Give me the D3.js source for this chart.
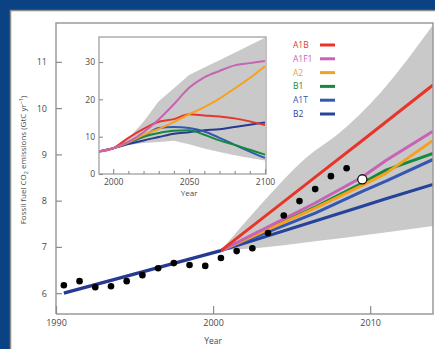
<!DOCTYPE html>
<html>
<head>
<meta charset="utf-8">
<script src="https://cdn.jsdelivr.net/npm/d3@7"></script>
<style>
  html, body { margin: 0; padding: 0; background: #0b4284; }
  svg { display: block; }
  text { font-family: "Open Sans", "Noto Sans", sans-serif; fill: #4a4a4a; }
</style>
</head>
<body>
<svg id="chart" width="435" height="349"></svg>
<script>
'use strict';

// observed emissions (GtC/yr), plotted at mid-year
var obsYears = [1990, 1991, 1992, 1993, 1994, 1995, 1996, 1997, 1998, 1999,
    2000, 2001, 2002, 2003, 2004, 2005, 2006, 2007, 2008];
var obsValues = [6.17, 6.26, 6.13, 6.15, 6.26, 6.39, 6.54, 6.65, 6.61, 6.59,
    6.76, 6.91, 6.97, 7.30, 7.68, 7.99, 8.25, 8.53, 8.70];
var projYear = 2009;
var projValue = 8.46;

// common trajectory before the scenarios split
var histYears = [1990.5, 2000.5];
var histValues = [6.0, 6.92];

// scenario lines in the main panel
var scenarioNames = ['A1B', 'A1F1', 'A2', 'B1', 'A1T', 'B2'];
var scenarioColors = ['#e8352a', '#c862b5', '#f5a11f', '#138a3c', '#3557b0', '#26439c'];
var mainYears = [2000.5, 2006.5, 2009.5, 2011, 2014];
var mainA1B = [6.92, 8.51, 9.30, 9.70, 10.50];
var mainA1F1 = [6.92, 7.95, 8.51, 8.87, 9.50];
var mainA2 = [6.92, 7.84, 8.33, 8.59, 9.30];
var mainB1 = [6.92, 7.86, 8.38, 8.66, 9.02];
var mainA1T = [6.92, 7.73, 8.20, 8.42, 8.89];
var mainB2 = [6.92, 7.56, 7.88, 8.04, 8.35];

// uncertainty envelope in the main panel
var bandYears = [2000.5, 2003, 2006, 2008, 2010.7, 2014];
var bandUpper = [6.92, 7.90, 8.95, 9.45, 10.35, 11.80];
var bandLower = [6.92, 6.98, 7.10, 7.18, 7.30, 7.45];

// inset: SRES scenarios to 2100
var insetYears = [1990, 2000, 2010, 2020, 2030, 2040, 2050, 2060, 2070, 2080, 2090, 2100];
var insetA1B = [6.0, 6.9, 9.7, 12.1, 14.0, 14.7, 16.0, 15.7, 15.4, 14.9, 14.1, 13.1];
var insetA1F1 = [6.0, 6.9, 8.6, 11.2, 14.6, 18.7, 23.1, 25.9, 27.6, 29.1, 29.7, 30.3];
var insetA2 = [6.0, 6.9, 8.5, 10.5, 12.1, 13.9, 16.0, 17.9, 20.2, 22.9, 25.7, 28.9];
var insetB1 = [6.0, 6.9, 8.5, 10.0, 11.0, 11.6, 11.7, 10.5, 9.0, 7.8, 6.5, 5.2];
var insetA1T = [6.0, 6.9, 8.3, 10.0, 12.3, 12.6, 12.3, 11.4, 9.7, 7.8, 6.0, 4.3];
var insetB2 = [6.0, 6.9, 8.0, 9.0, 9.9, 10.8, 11.2, 11.7, 12.0, 12.6, 13.2, 13.8];
var insetUpper = [6.0, 6.9, 9.5, 14.0, 19.5, 23.0, 26.5, 28.5, 30.5, 32.5, 34.5, 36.5];
var insetLower = [6.0, 6.9, 7.8, 8.3, 8.6, 8.9, 8.0, 6.8, 5.9, 5.0, 4.3, 3.6];

var mainTicksY = [6, 7, 8, 9, 10, 11];
var mainTicksX = [1990, 2000, 2010];
var insetTicksY = [0, 10, 20, 30];
var insetTicksX = [2000, 2050, 2100];

var svg = d3.select('#chart');

// white panel with grey border
svg.append('rect').attr('x', 10.5).attr('y', 10.5).attr('width', 430).attr('height', 345)
    .attr('fill', '#fff').attr('stroke', '#8a8a8a').attr('stroke-width', 1.5);

var m = {left: 56, right: 433, top: 23, bottom: 314};
var x = d3.scaleLinear().domain([1990, 2014]).range([m.left, m.right]);
var y = d3.scaleLinear().domain([5.55, 11.84]).range([m.bottom, m.top]);

svg.append('clipPath').attr('id', 'mainclip').append('rect')
    .attr('x', m.left).attr('y', m.top).attr('width', m.right - m.left).attr('height', m.bottom - m.top);

var plot = svg.append('g').attr('clip-path', 'url(#mainclip)');

var bandData = bandYears.map(function (d, i) { return {x: d, lo: bandLower[i], hi: bandUpper[i]}; });
plot.append('path')
    .datum(bandData)
    .attr('fill', '#c9c9c9')
    .attr('d', d3.area().x(function (d) { return x(d.x); })
        .y0(function (d) { return y(d.lo); })
        .y1(function (d) { return y(d.hi); })
        .curve(d3.curveMonotoneX));

var line = d3.line().x(function (d) { return x(d[0]); }).y(function (d) { return y(d[1]); });
var mainSeries = [mainA1B, mainA1F1, mainA2, mainB1, mainA1T, mainB2];
// draw lower lines first so red / purple sit on top, like the reference
[5, 4, 3, 2, 1, 0].forEach(function (k) {
    plot.append('path')
        .datum(mainYears.map(function (yr, i) { return [yr, mainSeries[k][i]]; }))
        .attr('fill', 'none')
        .attr('stroke', scenarioColors[k])
        .attr('stroke-width', 3)
        .attr('stroke-linejoin', 'round')
        .attr('d', line);
});

plot.append('path')
    .datum(histYears.map(function (yr, i) { return [yr, histValues[i]]; }))
    .attr('fill', 'none')
    .attr('stroke', '#263a92')
    .attr('stroke-width', 3.5)
    .attr('d', line);

plot.selectAll('circle.obs')
    .data(obsYears)
    .enter()
    .append('circle')
    .attr('class', 'obs')
    .attr('cx', function (d) { return x(d + 0.5); })
    .attr('cy', function (d, i) { return y(obsValues[i]); })
    .attr('r', 3.3)
    .attr('fill', '#000');

plot.append('circle')
    .attr('cx', x(projYear + 0.5))
    .attr('cy', y(projValue))
    .attr('r', 4.6)
    .attr('fill', '#fff')
    .attr('stroke', '#111')
    .attr('stroke-width', 1.3);

// main frame
var frame = svg.append('g').attr('stroke', '#9a9a9a').attr('stroke-width', 1.5).attr('fill', 'none');
frame.append('path').attr('d', 'M' + m.left + ',' + m.bottom + 'V' + m.top + 'H' + m.right + 'V' + m.bottom + 'H' + m.left);

// main axes, ticks pointing inward
var xAxis = svg.append('g').attr('transform', 'translate(0,' + m.bottom + ')')
    .call(d3.axisTop(x).tickValues(d3.range(1991, 2014)).tickSize(4).tickFormat(''));
xAxis.call(d3.axisTop(x).tickValues(mainTicksX).tickSize(8).tickFormat(''));
svg.append('g').attr('transform', 'translate(0,' + m.bottom + ')')
    .call(d3.axisBottom(x).tickValues(mainTicksX).tickSize(0).tickPadding(6).tickFormat(d3.format('d')));
svg.append('g').attr('transform', 'translate(' + m.left + ',0)')
    .call(d3.axisRight(y).tickValues(mainTicksY).tickSize(6).tickFormat(''));
svg.append('g').attr('transform', 'translate(' + m.left + ',0)')
    .call(d3.axisLeft(y).tickValues(mainTicksY).tickSize(0).tickPadding(9).tickFormat(d3.format('d')));

svg.selectAll('.domain').remove();
svg.selectAll('.tick line').attr('stroke', '#8c8c8c').attr('stroke-width', 1.2);
svg.selectAll('.tick text').style('font-size', '9px').style('fill', '#4a4a4a')
    .style('font-family', '"Open Sans", "Noto Sans", sans-serif');

svg.append('text').attr('x', x(2000)).attr('y', 344).attr('text-anchor', 'middle')
    .style('font-size', '8.5px').text('Year');

var yl = svg.append('text').attr('transform', 'translate(26,160) rotate(-90)')
    .attr('text-anchor', 'middle').style('font-size', '8px');
yl.append('tspan').text('Fossil fuel CO');
yl.append('tspan').attr('dy', 2).style('font-size', '5.5px').text('2');
yl.append('tspan').attr('dy', -2).text(' emissions (GtC yr');
yl.append('tspan').attr('dy', -3).style('font-size', '5.5px').text('\u22121');
yl.append('tspan').attr('dy', 3).text(')');

// inset
var im = {left: 99, right: 266, top: 37, bottom: 174};
var ix = d3.scaleLinear().domain([1990, 2100]).range([98, 265]);
var iy = d3.scaleLinear().domain([0, 36.7]).range([im.bottom, im.top]);

svg.append('rect').attr('x', im.left).attr('y', im.top)
    .attr('width', im.right - im.left).attr('height', im.bottom - im.top)
    .attr('fill', '#fff');

svg.append('clipPath').attr('id', 'insetclip').append('rect')
    .attr('x', im.left).attr('y', im.top).attr('width', im.right - im.left).attr('height', im.bottom - im.top);
var inset = svg.append('g').attr('clip-path', 'url(#insetclip)');

var ibandData = insetYears.map(function (d, i) { return {x: d, lo: insetLower[i], hi: insetUpper[i]}; });
inset.append('path')
    .datum(ibandData)
    .attr('fill', '#c9c9c9')
    .attr('d', d3.area().x(function (d) { return ix(d.x); })
        .y0(function (d) { return iy(d.lo); })
        .y1(function (d) { return iy(d.hi); }));

var iline = d3.line().x(function (d) { return ix(d[0]); }).y(function (d) { return iy(d[1]); })
    .curve(d3.curveMonotoneX);
var insetSeries = [insetA1B, insetA1F1, insetA2, insetB1, insetA1T, insetB2];
var insetColors = ['#e8352a', '#c862b5', '#f5a11f', '#138a3c', '#3557b0', '#263a92'];
[5, 4, 3, 0, 2, 1].forEach(function (k) {
    inset.append('path')
        .datum(insetYears.map(function (yr, i) { return [yr, insetSeries[k][i]]; }))
        .attr('fill', 'none')
        .attr('stroke', insetColors[k])
        .attr('stroke-width', 2)
        .attr('d', iline);
});

svg.append('rect').attr('x', im.left).attr('y', im.top)
    .attr('width', im.right - im.left).attr('height', im.bottom - im.top)
    .attr('fill', 'none').attr('stroke', '#a0a0a0').attr('stroke-width', 1.3);

var ia = svg.append('g').attr('class', 'inset-axes');
ia.append('g').attr('transform', 'translate(0,' + im.bottom + ')')
    .call(d3.axisTop(ix).tickValues(d3.range(2010, 2100, 10).filter(function (d) { return d !== 2050; }))
        .tickSize(3).tickFormat(''));
ia.append('g').attr('transform', 'translate(0,' + im.bottom + ')')
    .call(d3.axisTop(ix).tickValues(insetTicksX).tickSize(5).tickFormat(''));
ia.append('g').attr('transform', 'translate(0,' + im.bottom + ')')
    .call(d3.axisBottom(ix).tickValues(insetTicksX).tickSize(0).tickPadding(5).tickFormat(d3.format('d')));
ia.append('g').attr('transform', 'translate(' + im.left + ',0)')
    .call(d3.axisRight(iy).tickValues(insetTicksY).tickSize(4).tickFormat(''));
ia.append('g').attr('transform', 'translate(' + im.left + ',0)')
    .call(d3.axisLeft(iy).tickValues(insetTicksY).tickSize(0).tickPadding(4).tickFormat(d3.format('d')));
ia.selectAll('.domain').remove();
ia.selectAll('.tick line').attr('stroke', '#8c8c8c').attr('stroke-width', 1.1);
ia.selectAll('.tick text').style('font-size', '8.5px').style('fill', '#4a4a4a')
    .style('font-family', '"Open Sans", "Noto Sans", sans-serif');

svg.append('text').attr('x', ix(2050)).attr('y', 196).attr('text-anchor', 'middle')
    .style('font-size', '8px').text('Year');

// legend
var legend = svg.append('g').attr('transform', 'translate(293,45)');
scenarioNames.forEach(function (name, i) {
    var row = legend.append('g').attr('transform', 'translate(0,' + (i * 13.8) + ')');
    row.append('text').attr('x', 0).attr('y', 3).style('font-size', '8.5px')
        .style('fill', scenarioColors[i]).text(name);
    row.append('line').attr('x1', 27).attr('x2', 42).attr('y1', 0).attr('y2', 0)
        .attr('stroke', scenarioColors[i]).attr('stroke-width', 3);
});
</script>
</body>
</html>
